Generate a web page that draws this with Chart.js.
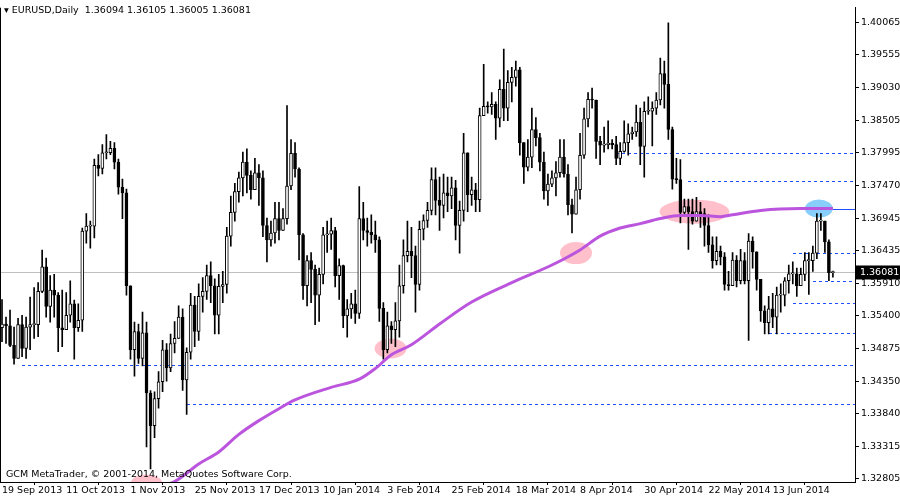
<!DOCTYPE html>
<html><head><meta charset="utf-8">
<script src="https://cdn.jsdelivr.net/npm/chart.js@4.4.0/dist/chart.umd.min.js"></script>
<style>
html,body{margin:0;padding:0;background:#fff;}
#wrap{position:relative;width:900px;height:500px;}
.t{position:absolute;font-family:"DejaVu Sans",sans-serif;font-size:9.5px;color:#000;white-space:nowrap;}
</style></head><body>
<div id="wrap"><canvas id="c" width="900" height="500"></canvas>
<div class="t" style="left:4px;top:4px;">&#9662; EURUSD,Daily&nbsp; 1.36094 1.36105 1.36005 1.36081</div>
<div class="t" style="left:6px;top:468px;">GCM MetaTrader, © 2001-2014, MetaQuotes Software Corp.</div>
</div>
<script>
const closes = [
1.3526,1.3523,1.3492,1.3471,1.3525,1.3487,1.3521,1.3525,1.3525,1.3578,1.3617,1.3554,1.3580,1.3572,1.3520,1.3517,1.3540,1.3558,1.3520,1.3532,1.3674,1.3682,1.3682,1.3779,1.3774,1.3799,1.3799,1.3806,1.3784,1.3744,1.3735,1.3587,1.3485,1.3514,1.3471,1.3512,
1.3416,1.3364,1.3407,1.3434,1.3485,1.3456,1.3495,1.3503,1.3537,1.3437,1.3481,1.3556,1.3514,1.3570,1.3578,1.3603,1.3587,1.3540,1.3586,1.3589,1.3666,1.3704,1.3737,1.3759,1.3784,1.3763,1.3740,1.3767,1.3759,1.3683,1.3660,1.3671,1.3694,1.3675,1.3694,1.3746,1.3798,
1.3773,1.3668,1.3587,1.3627,1.3613,1.3572,1.3605,1.3668,1.3669,1.3675,1.3603,1.3619,1.3539,1.3550,1.3558,1.3543,1.3694,1.3675,1.3672,1.3668,1.3660,1.3551,1.3485,1.3523,1.3517,1.3531,1.3587,1.3635,1.3642,1.3635,1.3589,1.3677,1.3691,1.3707,1.3756,
1.3723,1.3715,1.3735,1.3730,1.3743,1.3683,1.3707,1.3799,1.3732,1.3740,1.3724,1.3858,1.3873,1.3872,1.3876,1.3854,1.3900,1.3870,1.3911,1.3919,1.3931,1.3815,1.3776,1.3792,1.3836,1.3823,1.3784,1.3738,1.3749,1.3759,1.3767,1.3792,1.3765,1.3716,1.3701,1.3740,1.3795,
1.3853,1.3884,1.3883,1.3817,1.3811,1.3812,1.3814,1.3812,1.3790,1.3801,1.3815,1.3829,1.3832,1.3848,1.3809,1.3865,1.3865,1.3870,1.3883,1.3925,1.3908,1.3836,1.3757,1.3756,1.3704,1.3713,1.3705,1.3690,1.3705,1.3702,1.3683,1.3652,1.3627,1.3642,1.3633,
1.3589,1.3587,1.3628,1.3595,1.3627,1.3595,1.3658,1.3641,1.3597,1.3547,1.3528,1.3550,1.3537,1.3572,1.3572,1.3595,1.3606,1.3606,1.3587,1.3605,1.3627,1.3627,1.3639,1.3690,1.3690,1.3657,1.3608,1.36081];
const highs = [
1.3565,1.3537,1.3548,1.3521,1.3535,1.3540,1.3537,1.3569,1.3584,1.3592,1.3644,1.3631,1.3603,1.3605,1.3576,1.3580,1.3576,1.3595,1.3564,1.3558,1.3679,1.3702,1.3690,1.3789,1.3796,1.3812,1.3828,1.3817,1.3815,1.3789,1.3757,1.3741,1.3587,1.3529,1.3526,1.3545,
1.3529,1.3420,1.3418,1.3450,1.3500,1.3495,1.3510,1.3530,1.3555,1.3550,1.3488,1.3575,1.3570,1.3590,1.3600,1.3620,1.3625,1.3598,1.3605,1.3610,1.3680,1.3730,1.3750,1.3768,1.3800,1.3805,1.3770,1.3790,1.3780,1.3770,1.3695,1.3690,1.3720,1.3720,1.3710,1.3874,1.3820,
1.3815,1.3775,1.3670,1.3635,1.3640,1.3620,1.3615,1.3680,1.3690,1.3695,1.3680,1.3630,1.3620,1.3565,1.3575,1.3580,1.3745,1.3720,1.3695,1.3700,1.3690,1.3665,1.3560,1.3545,1.3530,1.3560,1.3620,1.3660,1.3690,1.3680,1.3650,1.3690,1.3700,1.3720,1.3775,
1.3775,1.3760,1.3765,1.3760,1.3760,1.3755,1.3722,1.3830,1.3770,1.3760,1.3750,1.3870,1.3940,1.3880,1.3895,1.3880,1.3915,1.3964,1.3930,1.3935,1.3945,1.3935,1.3810,1.3820,1.3870,1.3855,1.3830,1.3800,1.3765,1.3770,1.3785,1.3820,1.3820,1.3780,1.3725,1.3760,1.3830,
1.3870,1.3895,1.3902,1.3840,1.3825,1.3840,1.3850,1.3820,1.3825,1.3815,1.3850,1.3845,1.3840,1.3875,1.3870,1.3880,1.3888,1.3880,1.3895,1.3950,1.3945,1.4006,1.3840,1.3790,1.3788,1.3725,1.3725,1.3725,1.3728,1.3720,1.3710,1.3700,1.3665,1.3665,1.3650,
1.3640,1.3610,1.3640,1.3635,1.3645,1.3640,1.3670,1.3665,1.3640,1.3595,1.3555,1.3570,1.3575,1.3585,1.3590,1.3600,1.3620,1.3625,1.3615,1.3615,1.3640,1.3640,1.3650,1.3702,1.3702,1.3685,1.3660,1.36105];
const lows = [
1.3498,1.3495,1.3490,1.3462,1.3471,1.3474,1.3471,1.3485,1.3503,1.3506,1.3576,1.3537,1.3529,1.3537,1.3482,1.3490,1.3517,1.3529,1.3470,1.3514,1.3514,1.3655,1.3647,1.3663,1.3762,1.3765,1.3789,1.3796,1.3773,1.3733,1.3694,1.3572,1.3470,1.3443,1.3463,1.3459,
1.3330,1.3295,1.3345,1.3392,1.3418,1.3435,1.3450,1.3480,1.3515,1.3420,1.3382,1.3470,1.3490,1.3500,1.3545,1.3565,1.3560,1.3510,1.3510,1.3560,1.3575,1.3650,1.3690,1.3720,1.3730,1.3735,1.3725,1.3740,1.3715,1.3665,1.3625,1.3650,1.3655,1.3660,1.3675,1.3685,1.3740,
1.3760,1.3628,1.3565,1.3555,1.3560,1.3525,1.3530,1.3590,1.3640,1.3645,1.3585,1.3565,1.3520,1.3505,1.3535,1.3527,1.3535,1.3660,1.3650,1.3655,1.3640,1.3530,1.3470,1.3480,1.3495,1.3490,1.3505,1.3575,1.3625,1.3600,1.3545,1.3580,1.3660,1.3680,1.3700,
1.3700,1.3675,1.3695,1.3705,1.3710,1.3660,1.3639,1.3690,1.3705,1.3715,1.3705,1.3705,1.3860,1.3862,1.3860,1.3820,1.3840,1.3850,1.3850,1.3880,1.3905,1.3795,1.3750,1.3770,1.3775,1.3810,1.3770,1.3725,1.3715,1.3745,1.3730,1.3760,1.3760,1.3700,1.3671,1.3715,1.3725,
1.3790,1.3840,1.3870,1.3790,1.3780,1.3800,1.3805,1.3805,1.3780,1.3780,1.3800,1.3795,1.3820,1.3825,1.3780,1.3760,1.3860,1.3810,1.3860,1.3875,1.3870,1.3820,1.3741,1.3750,1.3687,1.3700,1.3645,1.3685,1.3690,1.3680,1.3650,1.3640,1.3615,1.3620,1.3620,
1.3580,1.3580,1.3590,1.3585,1.3590,1.3590,1.3500,1.3615,1.3580,1.3530,1.3510,1.3510,1.3520,1.3510,1.3545,1.3555,1.3575,1.3590,1.3570,1.3590,1.3595,1.3573,1.3610,1.3630,1.3675,1.3640,1.3595,1.36005];
const firstOpen = 1.3520;
const maIdx = [36,43,49,54,59,64,69,73,82,89,93,97,102,109,117,127,137,144,149,154,159,164,169,174,179,182,189,199,207];
const maVal = [1.3262,1.3275,1.3303,1.3322,1.3350,1.3372,1.3391,1.3405,1.3425,1.3438,1.3455,1.3477,1.3493,1.3526,1.3561,1.3592,1.3620,1.3644,1.3666,1.3679,1.3686,1.3694,1.3699,1.3699,1.3697,1.3700,1.3707,1.3710,1.3710];
const priceTicks = [1.40065,1.39555,1.39030,1.38505,1.37995,1.37470,1.36945,1.36435,1.35910,1.35400,1.34875,1.34350,1.33840,1.33315,1.32805];
const dateTickIdx = [0,16,32,48,64,80,96,112,128,144,160,176,192];
const dateTickText = ['19 Sep 2013','11 Oct 2013','1 Nov 2013','25 Nov 2013','17 Dec 2013','10 Jan 2014','3 Feb 2014','25 Feb 2014','18 Mar 2014','8 Apr 2014','30 Apr 2014','22 May 2014','13 Jun 2014'];
const levelPrice = [1.3460,1.3399,1.3799,1.3754,1.3639,1.3594,1.3560,1.3511];
const levelStart = [5,46,153,171,197,202,197,191];
const trendPrice = 1.3710, trendStart = 207;
const lastPrice = 1.36081;
const markIdx = [96.8,143,172.5,36,203.5];
const markPrice = [1.3487,1.3639,1.3705,1.3272,1.3710];
const markStyle = [[16,10,'#ffc0cb'],[16,11,'#ffc0cb'],[35,12,'#ffc0cb'],[16,9,'#ffc0cb'],[14,9,'#87cefa']];

const N = 213;
const labels = Array.from({length:N},(_, i)=>i);
const wick=[], body=[], bodyBg=[];
closes.forEach((c,i)=>{
  const o = i===0?firstOpen:closes[i-1];
  wick.push([Math.min(lows[i],o,c),Math.max(highs[i],o,c)]);
  body.push([o,c]);
  bodyBg.push(c>=o?'#ffffff':'#000000');
});
const ma = new Array(N).fill(null);
maIdx.forEach((ix,k)=>ma[ix]=maVal[k]);

const deco = {
  id:'deco',
  beforeDatasetsDraw(ch){
    const {ctx,chartArea:a,scales:{x,y}}=ch;
    ctx.save();
    ctx.beginPath();ctx.rect(a.left,a.top,a.right-a.left,a.bottom-a.top);ctx.clip();
    markIdx.forEach((ix,k)=>{
      const [rx,ry,col]=markStyle[k];
      ctx.fillStyle=col;ctx.beginPath();
      ctx.ellipse(x.getPixelForValue(ix),y.getPixelForValue(markPrice[k]),rx,ry,0,0,Math.PI*2);ctx.fill();
    });
    ctx.strokeStyle='#c0c0c0';ctx.lineWidth=1;
    const ly=Math.round(y.getPixelForValue(lastPrice))+0.5;
    ctx.beginPath();ctx.moveTo(a.left,ly);ctx.lineTo(a.right,ly);ctx.stroke();
    ctx.strokeStyle='#1f4fff';ctx.setLineDash([3,3]);
    levelPrice.forEach((p,k)=>{
      const py=Math.round(y.getPixelForValue(p))+0.5;
      ctx.beginPath();ctx.moveTo(Math.round(x.getPixelForValue(levelStart[k])),py);ctx.lineTo(a.right,py);ctx.stroke();
    });
    ctx.setLineDash([]);
    const ty=Math.round(y.getPixelForValue(trendPrice))+0.5;
    ctx.beginPath();ctx.moveTo(x.getPixelForValue(trendStart),ty);ctx.lineTo(a.right,ty);ctx.stroke();
    ctx.restore();
  },
  afterDraw(ch){
    const {ctx,chartArea:a,scales:{y}}=ch;
    ctx.save();
    ctx.strokeStyle='#000';ctx.lineWidth=1;
    ctx.beginPath();ctx.moveTo(a.left+0.5,a.top);ctx.lineTo(a.left+0.5,a.bottom);ctx.stroke();
    const py=y.getPixelForValue(lastPrice);
    ctx.fillStyle='#000';ctx.fillRect(a.right+1,py-7,44,14);
    ctx.fillStyle='#fff';ctx.font='9.5px "DejaVu Sans"';ctx.textBaseline='middle';
    ctx.fillText(lastPrice.toFixed(5),a.right+5,py+0.5);
    ctx.restore();
  }
};

new Chart(document.getElementById('c'),{
  type:'bar',
  data:{labels,datasets:[
    {type:'line',data:ma,borderColor:'#bb55dd',borderWidth:3,pointRadius:0,spanGaps:true,cubicInterpolationMode:'monotone',order:0},
    {data:body,backgroundColor:bodyBg,borderColor:'#000',borderWidth:1,borderSkipped:false,barThickness:3,minBarLength:1,grouped:false,order:1},
    {data:wick,backgroundColor:'#000',barThickness:1,grouped:false,order:2}
  ]},
  options:{
    responsive:false,animation:false,
    layout:{padding:{top:1,left:0,right:0,bottom:0}},
    plugins:{legend:{display:false},tooltip:{enabled:false}},
    scales:{
      x:{offset:true,
        afterBuildTicks(s){s.ticks=dateTickIdx.map(v=>({value:v}));},
        afterFit(s){s.height=18;},
        grid:{display:true,drawOnChartArea:false,drawTicks:true,tickLength:3,color:'#000'},
        border:{display:true,color:'#000'},
        ticks:{autoSkip:false,maxRotation:0,align:'start',padding:0,color:'#000',font:{family:'DejaVu Sans',size:9.5},
          callback:(v,i)=>dateTickText[i]}},
      y:{position:'right',min:1.32742,max:1.40301,
        afterBuildTicks(s){s.ticks=priceTicks.map(v=>({value:v}));},
        afterFit(s){s.width=45;},
        grid:{display:true,drawOnChartArea:false,drawTicks:true,tickLength:4,color:'#000'},
        border:{display:true,color:'#000'},
        ticks:{padding:2,color:'#000',font:{family:'DejaVu Sans',size:9.5},callback:v=>Number(v).toFixed(5)}}
    }
  },
  plugins:[deco]
});
</script></body></html>
